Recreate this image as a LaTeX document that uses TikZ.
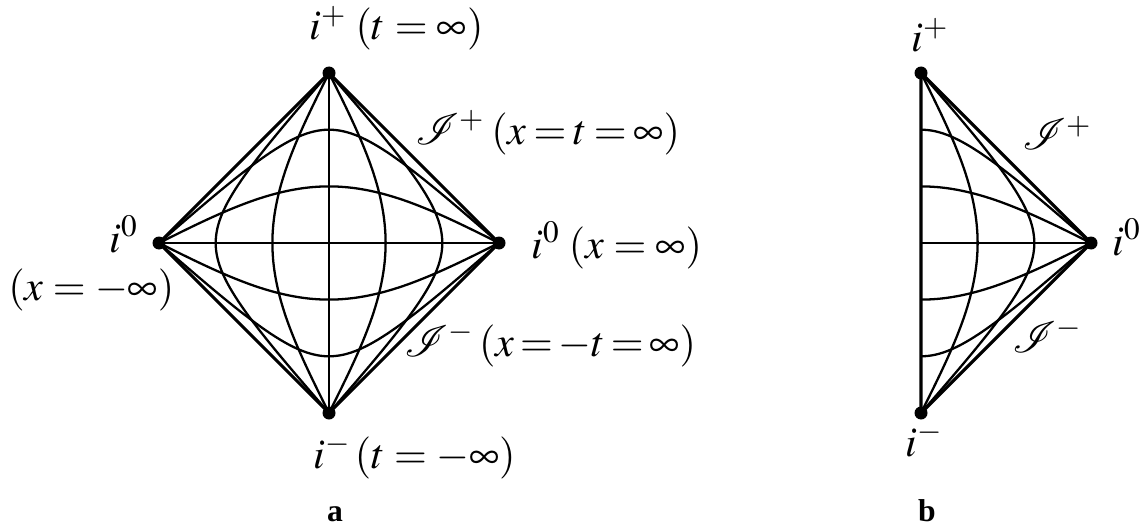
\documentclass[tikz,border=0pt]{standalone}
\usepackage{mathptmx}
\usepackage{mathrsfs}
\usepackage{fontspec}
\setmainfont{Liberation Serif}
\newcommand{\pxdeg}{0.9444}
\tikzset{
  edge/.style={line width=1.8pt},
  grid/.style={line width=1.3pt},
  lbl/.style={anchor=base west, inner sep=0pt, font=\fontsize{24}{28}\selectfont},
  tag/.style={anchor=base, inner sep=0pt, font=\fontsize{18}{22}\selectfont\bfseries},
}
\begin{document}
\begin{tikzpicture}[x=0.02cm,y=-0.02cm,
  declare function={gd(\w)=2*atan(tanh(\w/2));}]
\useasboundingbox (0,0) rectangle (1142,527);

% a: full diagram
\coordinate (ipA) at (329,73);
\coordinate (imA) at (329,413);
\coordinate (ilA) at (159,243);
\coordinate (irA) at (499,243);
\foreach \c in {-1.317,-0.549,0.549,1.317} {
  \draw[grid] plot[smooth, domain=-12:12, samples=241, variable=\s]
    ({329+\pxdeg*(gd(\c+\s)-gd(\c-\s))},{243-\pxdeg*(gd(\c+\s)+gd(\c-\s))});
  \draw[grid] plot[smooth, domain=-12:12, samples=241, variable=\s]
    ({329+\pxdeg*(gd(\s+\c)-gd(\s-\c))},{243-\pxdeg*(gd(\s+\c)+gd(\s-\c))});
}
\draw[grid] (ilA) -- (irA);
\draw[grid] (ipA) -- (imA);
\draw[edge] (ipA) -- (irA) -- (imA) -- (ilA) -- cycle;
\foreach \p in {ipA,imA,ilA,irA} \fill (\p) circle (6.5);

\node[lbl] (lipA) at (309,40) {$i^{+}\;(t=\infty)$};
\node[lbl] (lspA) at (415,144) {$\thickmuskip=3mu\mathscr{I}^{+}\;(x=t=\infty)$};
\node[lbl] (lirA) at (531,258) {$i^{0}\;(x=\infty)$};
\node[lbl, anchor=base east] (lilA) at (138,252) {$i^{0}$};
\node[lbl] (lxA) at (8,300) {$(x=-\infty)$};
\node[lbl] (lsmA) at (404,356) {$\thickmuskip=2.5mu\mathscr{I}^{-}\;(x=-t=\infty)$};
\node[lbl] (limA) at (313,468) {$i^{-}\,(t=-\infty)$};
\node[tag] (tagA) at (335,521) {a};

% b: half diagram
\coordinate (ipB) at (921,73);
\coordinate (imB) at (921,413);
\coordinate (i0B) at (1091,243);
\foreach \c in {-1.317,-0.549,0.549,1.317} {
  \draw[grid] plot[smooth, domain=0:12, samples=121, variable=\s]
    ({921+\pxdeg*(gd(\c+\s)-gd(\c-\s))},{243-\pxdeg*(gd(\c+\s)+gd(\c-\s))});
}
\foreach \c in {0.549,1.317} {
  \draw[grid] plot[smooth, domain=-12:12, samples=241, variable=\s]
    ({921+\pxdeg*(gd(\s+\c)-gd(\s-\c))},{243-\pxdeg*(gd(\s+\c)+gd(\s-\c))});
}
\draw[grid] (ipB |- i0B) -- (i0B);
\draw[edge] (ipB) -- (i0B) -- (imB) -- cycle;
\foreach \p in {ipB,imB,i0B} \fill (\p) circle (6.5);

\node[lbl] (lipB) at (911,52) {$i^{+}$};
\node[lbl] (lspB) at (1022,150) {$\mathscr{I}^{+}$};
\node[lbl] (li0B) at (1112,255) {$i^{0}$};
\node[lbl] (lsmB) at (1012,352) {$\mathscr{I}^{-}$};
\node[lbl] (limB) at (905,456) {$i^{-}$};
\node[tag] (tagB) at (927,521) {b};
\end{tikzpicture}
\end{document}
